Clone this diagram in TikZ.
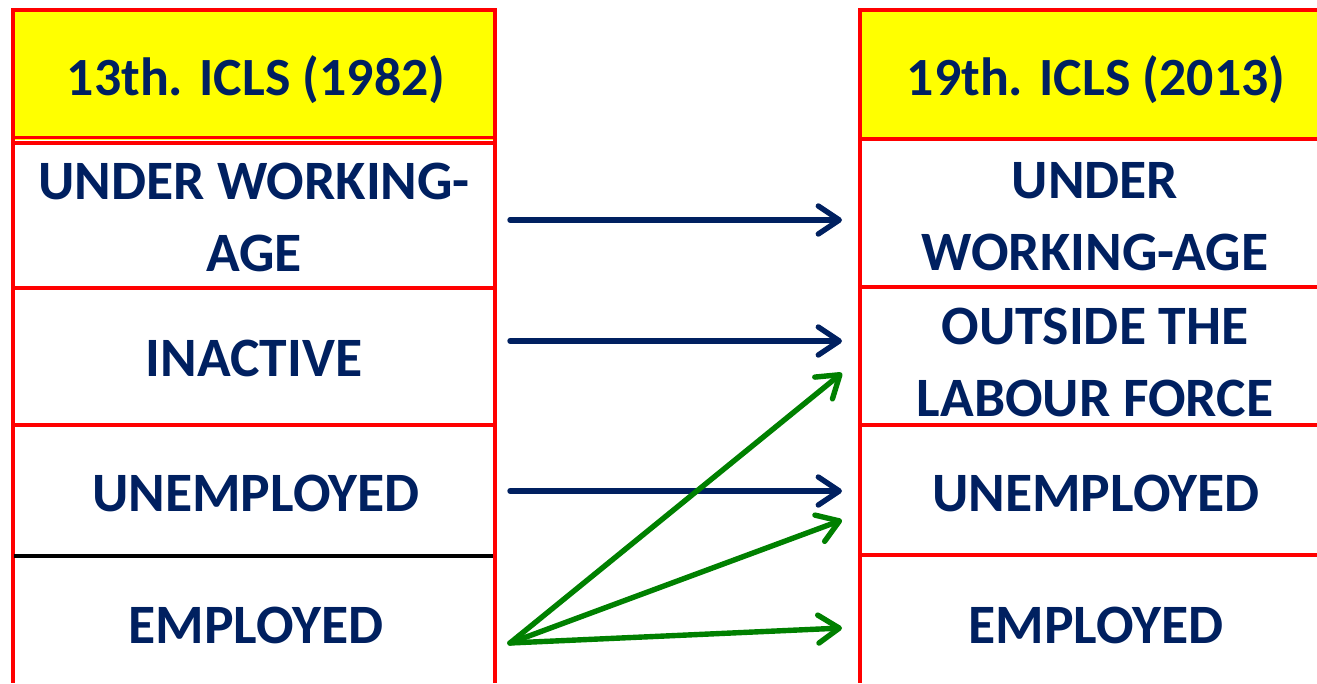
\documentclass[tikz,border=0pt]{standalone}
\usepackage{fontspec}
\setmainfont{Carlito}
\usetikzlibrary{arrows.meta}
\definecolor{navy}{HTML}{002060}
\definecolor{grn}{HTML}{008000}
\definecolor{hdr}{HTML}{FFFF00}
\definecolor{redline}{HTML}{FF0000}
\tikzset{
  lbl/.style={font=\bfseries\fontsize{55.6}{72}\selectfont, text=navy, align=center, inner sep=0pt},
  hlbl/.style={lbl, font=\bfseries\fontsize{53.8}{66}\selectfont},
  rule/.style={draw=redline, line width=4pt},
  arr/.style={line width=5.4pt, line cap=round, -{Straight Barb[length=21pt,width=28pt,line cap=round,line join=round]}},
  navyarr/.style={arr, draw=navy},
  greenarr/.style={arr, draw=grn}
}
\begin{document}
\begin{tikzpicture}[x=1pt,y=-1pt]
\useasboundingbox (0,0) rectangle (1317,683);
% headers
\fill[hdr] (12,10) rectangle (495,140);
\fill[hdr] (860,10) rectangle (1317,139);
% left column lines
\draw[rule] (12.5,8) -- (12.5,683);
\draw[rule] (494.5,8) -- (494.5,683);
\draw[rule] (11,9.5) -- (496,9.5);
\draw[draw=redline, line width=3.8pt] (12,137.5) -- (495,137.5);
\draw[draw=redline, line width=3.4pt] (12,142.8) -- (495,142.8);
\draw[rule] (12,288) -- (495,288);
\draw[rule] (12,425) -- (495,425);
\draw[line width=3.8pt] (14,556) -- (493,556);
% right column lines
\draw[rule] (859.5,8) -- (859.5,683);
\draw[rule] (858,9.5) -- (1317,9.5);
\draw[draw=redline, line width=4.6pt] (858,139) -- (1317,139);
\draw[rule] (858,286.5) -- (1317,286.5);
\draw[rule] (858,424.5) -- (1317,424.5);
\draw[rule] (858,555) -- (1317,555);
% texts left
\node[hlbl] (lh) at (256,80) {13th. ICLS (1982)};
\node[lbl] (l1) at (254,217) {UNDER WORKING-\\AGE};
\node[lbl] (l2) at (254,358) {INACTIVE};
\node[lbl] (l3) at (256,493) {UNEMPLOYED};
\node[lbl] (l4) at (256,625) {EMPLOYED};
% texts right
\node[hlbl] (rh) at (1096,80) {19th. ICLS (2013)};
\node[lbl] (r1) at (1095,217) {UNDER\\WORKING-AGE};
\node[lbl] (r2) at (1095,362) {OUTSIDE THE\\LABOUR FORCE};
\node[lbl] (r3) at (1096,493) {UNEMPLOYED};
\node[lbl] (r4) at (1096,625) {EMPLOYED};
% arrow endpoints
\coordinate (s1) at (510,220);
\coordinate (t1) at (842,220);
\coordinate (s2) at (510,341);
\coordinate (t2) at (842,341);
\coordinate (s3) at (510,491);
\coordinate (t3) at (842,491);
\coordinate (s4) at (510,643);
\coordinate (g1) at (842,373);
\coordinate (g2) at (842,520);
\coordinate (g3) at (842,628);
\draw[navyarr] (s1) -- (t1);
\draw[navyarr] (s2) -- (t2);
\draw[navyarr] (s3) -- (t3);
\draw[greenarr] (s4) -- (g1);
\draw[greenarr] (s4) -- (g2);
\draw[greenarr] (s4) -- (g3);
\end{tikzpicture}
\end{document}
